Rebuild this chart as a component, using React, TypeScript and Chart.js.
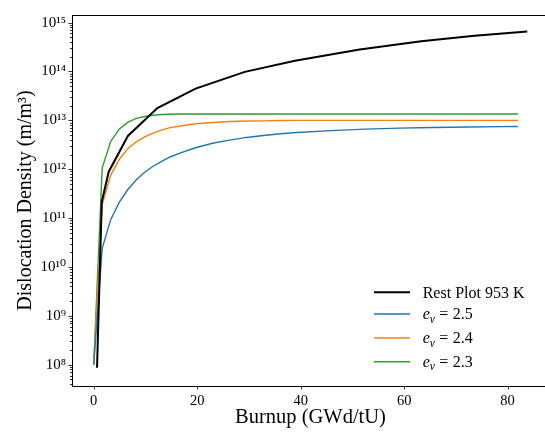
import { useEffect, useRef } from "react";
import { Chart, registerables } from "chart.js";

Chart.register(...registerables);

// ---- data ----
const burnupRest = [0.64, 1.55, 2.9, 6.6, 12.3, 19.7, 29.2, 38.9, 51.4, 63.3, 73.6, 83.8];
const densityRest = [8.7e7, 2.14e11, 8.9e11, 4.8e12, 1.78e13, 4.47e13, 9.8e13, 1.66e14, 2.82e14, 4.17e14, 5.37e14, 6.6e14];

const burnupModel = [0, 1.64, 3.28, 4.92, 6.56, 8.2, 9.84, 11.48, 13.12, 14.76, 16.4, 19.68, 22.96, 26.24, 29.52, 32.8, 36.08, 39.36, 45.92, 52.48, 59.04, 65.6, 72.16, 78.72, 82];
const densityEv25 = [1e8, 2.4e10, 9.3e10, 2.1e11, 3.8e11, 6.0e11, 8.7e11, 1.15e12, 1.45e12, 1.78e12, 2.09e12, 2.75e12, 3.39e12, 3.94e12, 4.47e12, 4.9e12, 5.31e12, 5.62e12, 6.17e12, 6.61e12, 6.92e12, 7.16e12, 7.33e12, 7.45e12, 7.5e12];
const densityEv24 = [1e8, 1.9e11, 7.6e11, 1.58e12, 2.63e12, 3.63e12, 4.57e12, 5.5e12, 6.3e12, 7.08e12, 7.59e12, 8.51e12, 9.02e12, 9.44e12, 9.66e12, 9.77e12, 9.89e12, 1.0e13, 1.0e13, 1.0e13, 1.0e13, 1.0e13, 1.0e13, 1.0e13, 1.0e13];
const densityEv23 = [1e8, 1.07e12, 3.7e12, 6.6e12, 9.1e12, 1.1e13, 1.2e13, 1.27e13, 1.32e13, 1.33e13, 1.35e13, 1.35e13, 1.35e13, 1.35e13, 1.35e13, 1.35e13, 1.35e13, 1.35e13, 1.35e13, 1.35e13, 1.35e13, 1.35e13, 1.35e13, 1.35e13, 1.35e13];

const restLabel = "Rest Plot 953 K";
const evValues = ["2.5", "2.4", "2.3"];
const xTickValues = [0, 20, 40, 60, 80];
const yDecades = [8, 9, 10, 11, 12, 13, 14, 15];
const xTitle = "Burnup (GWd/tU)";
const yTitle = "Dislocation Density (m/m³)";

const COLORS = ["#000000", "#1f77b4", "#ff7f0e", "#2ca02c"];
const FONT = "'Liberation Serif', 'DejaVu Serif', serif";

const SUP: Record<string, string> = {
  "0": "⁰", "1": "¹", "2": "²", "3": "³", "4": "⁴",
  "5": "⁵", "6": "⁶", "7": "⁷", "8": "⁸", "9": "⁹",
};
const sup = (n: number) => String(n).split("").map((c) => SUP[c]).join("");

const decorPlugin = {
  id: "decor",
  afterDraw(chart: any) {
    const { ctx, chartArea } = chart;
    const xs = chart.scales.x;
    const ys = chart.scales.y;
    ctx.save();
    ctx.strokeStyle = "#000";
    ctx.lineWidth = 1;
    // top & right spines
    ctx.beginPath();
    ctx.moveTo(chartArea.left, Math.round(chartArea.top) + 0.5);
    ctx.lineTo(chartArea.right, Math.round(chartArea.top) + 0.5);
    ctx.moveTo(Math.round(chartArea.right) - 0.5, chartArea.top);
    ctx.lineTo(Math.round(chartArea.right) - 0.5, chartArea.bottom);
    ctx.stroke();
    // y ticks (major + minor)
    ctx.lineWidth = 0.8;
    ys.ticks.forEach((t: any) => {
      const lg = Math.log10(t.value);
      const major = Math.abs(lg - Math.round(lg)) < 1e-6;
      const len = major ? 3.5 : 2;
      const py = Math.round(ys.getPixelForValue(t.value)) + 0.5;
      ctx.beginPath();
      ctx.moveTo(chartArea.left - len, py);
      ctx.lineTo(chartArea.left, py);
      ctx.stroke();
    });
    // x ticks
    xs.ticks.forEach((t: any) => {
      const px = Math.round(xs.getPixelForValue(t.value)) + 0.5;
      ctx.beginPath();
      ctx.moveTo(px, chartArea.bottom);
      ctx.lineTo(px, chartArea.bottom + 3.5);
      ctx.stroke();
    });
    // legend
    const rowsY = [-93.7, -72, -48, -24.3].map((d) => chartArea.bottom + d);
    const lineX0 = 374;
    const lineX1 = 410;
    const textX = 422.7;
    ctx.fillStyle = "#000";
    ctx.textBaseline = "alphabetic";
    ctx.textAlign = "left";
    rowsY.forEach((y, i) => {
      ctx.strokeStyle = COLORS[i];
      ctx.lineWidth = i === 0 ? 2 : 1.4;
      ctx.beginPath();
      ctx.moveTo(lineX0, y);
      ctx.lineTo(lineX1, y);
      ctx.stroke();
      const base = y + 5.4;
      if (i === 0) {
        ctx.font = `16px ${FONT}`;
        ctx.fillText(restLabel, textX, base);
      } else {
        let x = textX;
        ctx.font = `italic 16px ${FONT}`;
        ctx.fillText("e", x, base);
        x += ctx.measureText("e").width;
        ctx.font = `italic 11.5px ${FONT}`;
        ctx.fillText("v", x, base + 3.2);
        x += ctx.measureText("v").width + 4.3;
        ctx.font = `16px ${FONT}`;
        ctx.fillText("=", x, base);
        x += ctx.measureText("=").width + 4.5;
        ctx.fillText(evValues[i - 1], x, base);
      }
    });
    ctx.restore();
  },
};

export default function App() {
  const ref = useRef<HTMLCanvasElement | null>(null);
  useEffect(() => {
    document.body.style.margin = "0";
    if (!ref.current) return;
    const mk = (xs: number[], ys: number[]) => xs.map((x, i) => ({ x, y: ys[i] }));
    const yMin = Math.pow(10, 7.565);
    const yMax = Math.pow(10, 15.155);
    const chart = new Chart(ref.current, {
      type: "line",
      data: {
        datasets: [
          { label: restLabel, data: mk(burnupRest, densityRest), borderColor: COLORS[0], borderWidth: 2, pointRadius: 0, tension: 0 },
          { label: "ev=2.5", data: mk(burnupModel, densityEv25), borderColor: COLORS[1], borderWidth: 1.4, pointRadius: 0, tension: 0 },
          { label: "ev=2.4", data: mk(burnupModel, densityEv24), borderColor: COLORS[2], borderWidth: 1.4, pointRadius: 0, tension: 0 },
          { label: "ev=2.3", data: mk(burnupModel, densityEv23), borderColor: COLORS[3], borderWidth: 1.4, pointRadius: 0, tension: 0 },
        ],
      },
      options: {
        animation: false,
        responsive: false,
        maintainAspectRatio: false,
        layout: { padding: { top: 7, right: 1, left: 0, bottom: 0 } },
        plugins: { legend: { display: false }, tooltip: { enabled: false } },
        scales: {
          x: {
            type: "linear",
            min: -4.2,
            max: 88,
            afterBuildTicks: (s: any) => {
              s.ticks = xTickValues.map((v) => ({ value: v }));
            },
            grid: { display: false, drawTicks: false },
            border: { display: true, color: "#000", width: 1 },
            ticks: {
              color: "#000",
              font: { family: FONT, size: 14.5 },
              padding: 6,
              maxRotation: 0,
              autoSkip: false,
              callback: (v: any) => String(v),
            },
            title: {
              display: true,
              text: xTitle,
              color: "#000",
              font: { family: FONT, size: 20.5 },
              padding: { top: 0, bottom: 6 },
            },
            afterFit: (s: any) => {
              s.height = 50;
            },
          },
          y: {
            type: "logarithmic",
            min: yMin,
            max: yMax,
            afterBuildTicks: (s: any) => {
              const t: any[] = [];
              for (let n = 7; n <= 15; n++) {
                for (let m = 1; m <= 9; m++) {
                  const v = m * Math.pow(10, n);
                  if (v >= yMin && v <= yMax) t.push({ value: v });
                }
              }
              s.ticks = t;
            },
            grid: { display: false, drawTicks: false },
            border: { display: true, color: "#000", width: 1 },
            ticks: {
              color: "#000",
              font: { family: FONT, size: 15 },
              padding: 6,
              autoSkip: false,
              callback: (v: any) => {
                const lg = Math.log10(Number(v));
                const r = Math.round(lg);
                if (Math.abs(lg - r) < 1e-6 && yDecades.includes(r)) return "10" + sup(r);
                return "";
              },
            },
            title: {
              display: true,
              text: yTitle,
              color: "#000",
              font: { family: FONT, size: 20 },
              padding: { top: 14, bottom: 0 },
            },
            afterFit: (s: any) => {
              s.width = 72;
            },
          },
        },
      },
      plugins: [decorPlugin],
    });
    return () => chart.destroy();
  }, []);
  return (
    <div style={{ width: 545, height: 436, overflow: "hidden", position: "relative", background: "#fff" }}>
      <canvas ref={ref} width={550} height={436} style={{ width: 550, height: 436, display: "block" }} />
    </div>
  );
}
